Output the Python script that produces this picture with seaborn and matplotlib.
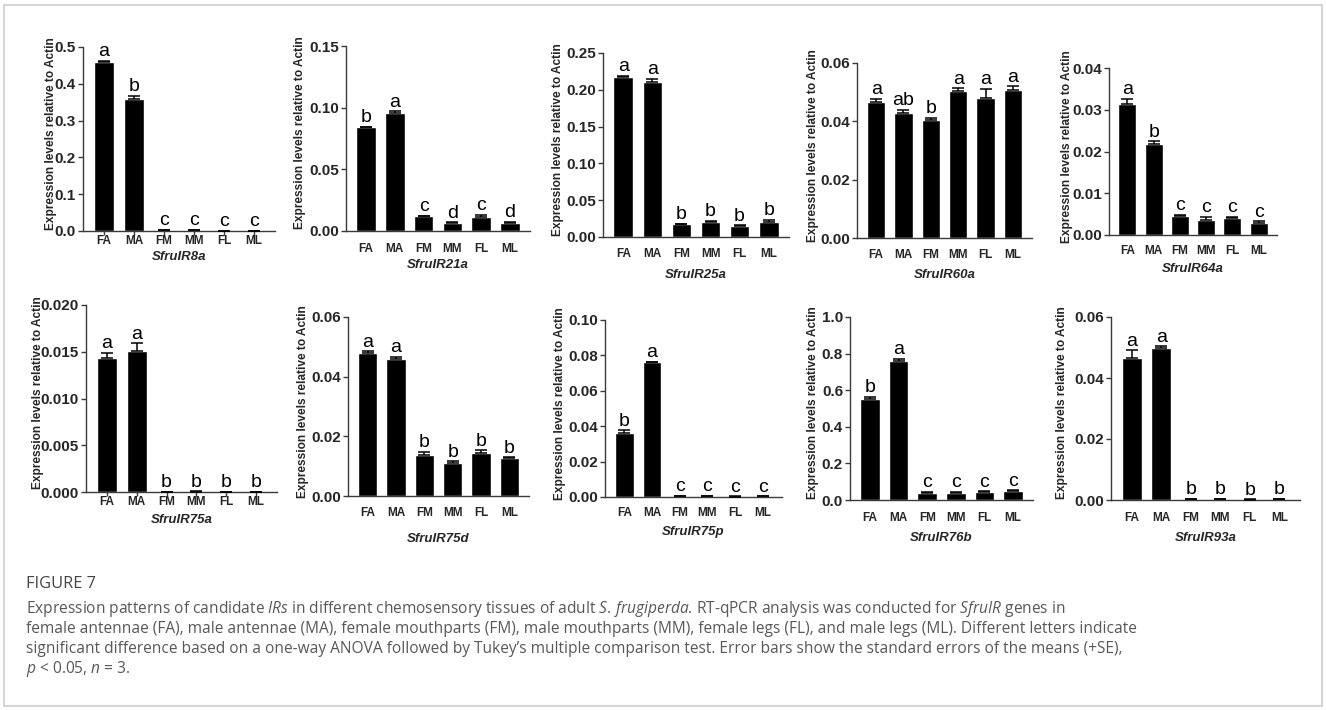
import numpy as np
import pandas as pd
import seaborn as sns
import matplotlib.pyplot as plt
from matplotlib.patches import Rectangle
from matplotlib.ticker import FormatStrFormatter

# ---- data ----
tissues = ["FA", "MA", "FM", "MM", "FL", "ML"]

mean_8a = [0.460, 0.360, 0.002, 0.003, 0.001, 0.001]
se_8a = [0.003, 0.007, 0.0003, 0.0003, 0.0002, 0.0002]
sig_8a = ["a", "b", "c", "c", "c", "c"]

mean_21a = [0.084, 0.096, 0.012, 0.0062, 0.011, 0.0065]
se_21a = [0.0005, 0.001, 0.0005, 0.0008, 0.002, 0.0008]
sig_21a = ["b", "a", "c", "d", "c", "d"]

mean_25a = [0.218, 0.210, 0.017, 0.021, 0.015, 0.021]
se_25a = [0.001, 0.005, 0.001, 0.001, 0.0007, 0.002]
sig_25a = ["a", "a", "b", "b", "b", "b"]

mean_60a = [0.0466, 0.0427, 0.0404, 0.0503, 0.0481, 0.0507]
se_60a = [0.001, 0.0012, 0.0008, 0.001, 0.003, 0.0013]
sig_60a = ["a", "ab", "b", "a", "a", "a"]

mean_64a = [0.0313, 0.0217, 0.0045, 0.0037, 0.0040, 0.0028]
se_64a = [0.0013, 0.0007, 0.0003, 0.0006, 0.0003, 0.0005]
sig_64a = ["a", "b", "c", "c", "c", "c"]

mean_75a = [0.0143, 0.0151, 0.00003, 0.00005, 0.00002, 0.00003]
se_75a = [0.0006, 0.0008, 0.00002, 0.00002, 0.00002, 0.00002]
sig_75a = ["a", "a", "b", "b", "b", "b"]

mean_75d = [0.0480, 0.0460, 0.0137, 0.0110, 0.0143, 0.0127]
se_75d = [0.0005, 0.0006, 0.0012, 0.0006, 0.001, 0.0003]
sig_75d = ["a", "a", "b", "b", "b", "b"]

mean_75p = [0.0362, 0.0760, 0.0005, 0.0004, 0.0002, 0.0003]
se_75p = [0.0015, 0.0005, 0.0001, 0.0001, 0.0001, 0.0001]
sig_75p = ["b", "a", "c", "c", "c", "c"]

mean_76b = [0.550, 0.760, 0.040, 0.040, 0.045, 0.050]
se_76b = [0.015, 0.012, 0.004, 0.003, 0.003, 0.003]
sig_76b = ["b", "a", "c", "c", "c", "c"]

mean_93a = [0.0466, 0.0497, 0.0003, 0.0003, 0.0001, 0.0003]
se_93a = [0.0025, 0.0007, 0.0001, 0.0001, 0.0001, 0.0001]
sig_93a = ["a", "a", "b", "b", "b", "b"]

# gene, means, se, letters, y max, y step, tick format
panels = [
    ("SfruIR8a", mean_8a, se_8a, sig_8a, 0.5, 0.1, "%.1f"),
    ("SfruIR21a", mean_21a, se_21a, sig_21a, 0.15, 0.05, "%.2f"),
    ("SfruIR25a", mean_25a, se_25a, sig_25a, 0.25, 0.05, "%.2f"),
    ("SfruIR60a", mean_60a, se_60a, sig_60a, 0.06, 0.02, "%.2f"),
    ("SfruIR64a", mean_64a, se_64a, sig_64a, 0.04, 0.01, "%.2f"),
    ("SfruIR75a", mean_75a, se_75a, sig_75a, 0.02, 0.005, "%.3f"),
    ("SfruIR75d", mean_75d, se_75d, sig_75d, 0.06, 0.02, "%.2f"),
    ("SfruIR75p", mean_75p, se_75p, sig_75p, 0.10, 0.02, "%.2f"),
    ("SfruIR76b", mean_76b, se_76b, sig_76b, 1.0, 0.2, "%.1f"),
    ("SfruIR93a", mean_93a, se_93a, sig_93a, 0.06, 0.02, "%.2f"),
]

# layout in pixels: left, right, top, bottom, x tick length, label centre offset,
# gene name offset, y label offset
boxes = [
    (83, 275, 47, 231, 4, 8, 26, 32),
    (346, 530, 46, 231, 0, 17, 34, 46),
    (603, 789, 53, 237, 0, 16, 38, 45),
    (857, 1032, 63, 238, 0, 16, 37, 44),
    (1109, 1277, 68, 235, 0, 15, 34, 42),
    (86, 277, 305, 492, 4, 9, 28, 48),
    (348, 529, 317, 496, 0, 16, 43, 45),
    (605, 782, 320, 497, 0, 15, 35, 45),
    (850, 1033, 317, 500, 0, 17, 38, 37),
    (1111, 1300, 317, 500, 0, 17, 38, 49),
]

W, H = 1326, 710
sns.set_style("ticks")
plt.rcParams["font.family"] = ["Liberation Sans", "DejaVu Sans"]
plt.rcParams["mathtext.fontset"] = "custom"
plt.rcParams["mathtext.rm"] = "Open Sans"
plt.rcParams["mathtext.it"] = "Open Sans:italic"

fig = plt.figure(figsize=(W / 100, H / 100), dpi=100)
axis_col = "#3a3a3a"

for (gene, mean, se, sig, ymax, ystep, fmt), box in zip(panels, boxes):
    l, r, t, b, tlen, tcen, gpad, ypad = box
    ax = fig.add_axes([l / W, 1 - b / H, (r - l) / W, (b - t) / H])
    df = pd.DataFrame({"tissue": tissues, "level": mean})
    sns.barplot(data=df, x="tissue", y="level", color="black", saturation=1,
                width=0.68, errorbar=None, ax=ax)
    ax.errorbar(range(len(tissues)), mean, yerr=[np.zeros(len(se)), se], fmt="none",
                ecolor="black", elinewidth=1.1, capsize=4, capthick=1.1, zorder=3)
    for i, s in enumerate(sig):
        ax.annotate(s, (i, mean[i] + se[i]), xytext=(0, 0.5), textcoords="offset points",
                    ha="center", va="bottom", fontsize=14, color="black")

    ax.set_xlim(-0.7, 5.7)
    ax.set_ylim(0, ymax)
    ax.set_yticks(np.arange(0, ymax + ystep / 2, ystep))
    ax.yaxis.set_major_formatter(FormatStrFormatter(fmt))
    sns.despine(ax=ax)
    for sp in ("left", "bottom"):
        ax.spines[sp].set_color(axis_col)
        ax.spines[sp].set_linewidth(1.0)

    ax.tick_params(axis="y", length=3.5, width=1.0, color=axis_col, pad=1.5,
                   labelsize=11)
    ax.tick_params(axis="x", length=tlen * 0.72, width=1.0, color=axis_col,
                   pad=max(tcen - 5 - tlen, 0) * 0.72, labelsize=8.5)
    for lab in ax.get_xticklabels() + ax.get_yticklabels():
        lab.set_fontweight("bold")

    hp = b - t
    ax.set_xlabel(gene, fontsize=9.5, fontweight="bold", fontstyle="italic")
    ax.xaxis.set_label_coords(0.5, -gpad / hp)
    ax.xaxis.label.set_va("center")
    ax.set_ylabel("Expression levels relative to Actin", fontsize=8.6,
                  fontweight="bold")
    ax.yaxis.set_label_coords(-ypad / (r - l), 0.53)
    ax.yaxis.label.set_va("center")

# ---- caption ----
cap_col = "#585858"
fig.text(26 / W, 1 - 588 / H, "FIGURE 7", fontsize=11.8, color="#444444",
         family="Open Sans", va="baseline")
caption = [
    r"Expression patterns of candidate $\mathit{IRs}$ in different chemosensory tissues of adult "
    r"$\mathit{S.\,frugiperda}$. RT-qPCR analysis was conducted for $\mathit{SfruIR}$ genes in",
    "female antennae (FA), male antennae (MA), female mouthparts (FM), male mouthparts (MM), "
    "female legs (FL), and male legs (ML). Different letters indicate",
    "significant difference based on a one-way ANOVA followed by Tukey\u2019s multiple comparison "
    "test. Error bars show the standard errors of the means (+SE),",
    r"$\mathit{p}$ < 0.05, $\mathit{n}$ = 3.",
]
for k, line in enumerate(caption):
    fig.text(26 / W, 1 - (613 + 20 * k) / H, line, fontsize=11.2, color=cap_col,
             family="Open Sans", va="baseline")

fig.add_artist(Rectangle((4 / W, 4 / H), 1 - 8 / W, 1 - 8.5 / H, transform=fig.transFigure,
                         fill=False, ec="#d6d6d6", lw=1.5))

fig.savefig("out.png", dpi=100)
